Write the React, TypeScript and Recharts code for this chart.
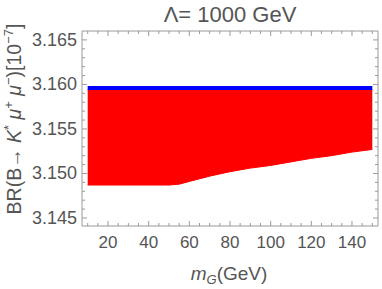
import React from 'react';
import { ComposedChart, Area, Line, XAxis, YAxis, Label } from 'recharts';

// m_G (GeV) sample positions
const mG = [10, 20, 30, 40, 50, 55, 60, 70, 80, 90, 100, 110, 120, 130, 140, 150];
// lower edge of the red scatter region (BR in 10^-7)
const brLow = [3.1487, 3.1487, 3.1487, 3.1487, 3.1487, 3.1488, 3.1491, 3.1497, 3.1502, 3.1506, 3.1509, 3.1513, 3.1517, 3.152, 3.1524, 3.1527];
// upper edge of the red scatter region
const brHigh = [3.1594, 3.1594, 3.1594, 3.1594, 3.1594, 3.1594, 3.1594, 3.1594, 3.1594, 3.1594, 3.1594, 3.1594, 3.1594, 3.1594, 3.1594, 3.1594];
// blue (SM) line
const brSM = [3.1596, 3.1596, 3.1596, 3.1596, 3.1596, 3.1596, 3.1596, 3.1596, 3.1596, 3.1596, 3.1596, 3.1596, 3.1596, 3.1596, 3.1596, 3.1596];

const xTicks = [10, 15, 20, 25, 30, 35, 40, 45, 50, 55, 60, 65, 70, 75, 80, 85, 90, 95, 100, 105, 110, 115, 120, 125, 130, 135, 140, 145, 150];
const xMajor = [20, 40, 60, 80, 100, 120, 140];
const yTicks = [3.145, 3.146, 3.147, 3.148, 3.149, 3.15, 3.151, 3.152, 3.153, 3.154, 3.155, 3.156, 3.157, 3.158, 3.159, 3.16, 3.161, 3.162, 3.163, 3.164, 3.165];
const yMajor = ['3.145', '3.150', '3.155', '3.160', '3.165'];

const data = mG.map((m, i) => ({ m, range: [brLow[i], brHigh[i]], sm: brSM[i] }));

const FONT = '"Liberation Sans", Arial, sans-serif';
const FRAME = '#9a9a9a';
const TXT = '#555555';

const isXMajor = (v: number) => xMajor.includes(v);
const isYMajor = (v: number) => yMajor.includes(v.toFixed(3));

const BottomTick = (p: any) => {
  const { x, y, payload } = p;
  const major = isXMajor(payload.value);
  return (
    <g>
      <line x1={x} y1={y} x2={x} y2={y - (major ? 5 : 3)} stroke={FRAME} strokeWidth={1} />
      {major && (
        <text x={x} y={y + 22} textAnchor="middle" fontSize={17} fontFamily={FONT} fill={TXT}>
          {payload.value}
        </text>
      )}
    </g>
  );
};

const TopTick = (p: any) => {
  const { x, y, payload } = p;
  const major = isXMajor(payload.value);
  return <line x1={x} y1={y} x2={x} y2={y + (major ? 5 : 3)} stroke={FRAME} strokeWidth={1} />;
};

const LeftTick = (p: any) => {
  const { x, y, payload } = p;
  const major = isYMajor(payload.value);
  return (
    <g>
      <line x1={x} y1={y} x2={x + (major ? 5 : 3)} y2={y} stroke={FRAME} strokeWidth={1} />
      {major && (
        <text x={x - 5} y={y + 6} textAnchor="end" fontSize={18} fontFamily={FONT} fill={TXT}>
          {payload.value.toFixed(3)}
        </text>
      )}
    </g>
  );
};

const RightTick = (p: any) => {
  const { x, y, payload } = p;
  const major = isYMajor(payload.value);
  return <line x1={x} y1={y} x2={x - (major ? 5 : 3)} y2={y} stroke={FRAME} strokeWidth={1} />;
};

const Texts = () => (
  <g>
    <text x={230} y={22} textAnchor="middle" fontSize={22} fontFamily={FONT} fill={TXT}>
      Λ= 1000 GeV
    </text>
    <text transform="translate(21,119) rotate(-90)" x={0} y={0} textAnchor="middle" fontSize={19.5} fontFamily={FONT} fill={TXT}>
      <tspan>BR(B→ </tspan>
      <tspan fontStyle="italic">K</tspan>
      <tspan fontSize={13} dy={-8}>*</tspan>
      <tspan dy={8}> </tspan>
      <tspan fontStyle="italic">μ</tspan>
      <tspan fontSize={13} dy={-8}>+</tspan>
      <tspan dy={8}> </tspan>
      <tspan fontStyle="italic">μ</tspan>
      <tspan fontSize={13} dy={-8}>−</tspan>
      <tspan dy={8}>)[10</tspan>
      <tspan fontSize={13} dy={-8}>−7</tspan>
      <tspan dy={8}>]</tspan>
    </text>
  </g>
);

const XTitle = () => (
  <text x={229} y={280} textAnchor="middle" fontSize={19} fontFamily={FONT} fill={TXT}>
    <tspan fontStyle="italic">m</tspan>
    <tspan fontStyle="italic" fontSize={13} dy={4}>G</tspan>
    <tspan dy={-4}>(GeV)</tspan>
  </text>
);

export default function App() {
  return (
    <div style={{ position: 'absolute', left: 0, top: 0, width: 382, height: 289, background: '#fff' }}>
      <ComposedChart width={382} height={289} data={data} margin={{ top: 30, right: 3, bottom: 0, left: 0 }}>
        <XAxis
          xAxisId="b"
          dataKey="m"
          type="number"
          domain={[7.2, 152.8]}
          ticks={xTicks}
          allowDataOverflow
          height={63}
          tickSize={0}
          tickMargin={0}
          tickLine={false}
          axisLine={{ stroke: FRAME }}
          tick={BottomTick}
          interval={0}
        >
          <Label content={XTitle} />
        </XAxis>
        <XAxis
          xAxisId="t"
          orientation="top"
          dataKey="m"
          type="number"
          domain={[7.2, 152.8]}
          ticks={xTicks}
          allowDataOverflow
          height={1}
          tickSize={0}
          tickMargin={0}
          tickLine={false}
          axisLine={{ stroke: FRAME }}
          tick={TopTick}
          interval={0}
        />
        <YAxis
          yAxisId="l"
          type="number"
          domain={[3.1441, 3.166]}
          ticks={yTicks}
          allowDataOverflow
          width={82}
          tickSize={0}
          tickMargin={0}
          tickLine={false}
          axisLine={{ stroke: FRAME }}
          tick={LeftTick}
          interval={0}
        >
          <Label content={Texts} />
        </YAxis>
        <YAxis
          yAxisId="r"
          orientation="right"
          type="number"
          domain={[3.1441, 3.166]}
          ticks={yTicks}
          allowDataOverflow
          width={1}
          tickSize={0}
          tickMargin={0}
          tickLine={false}
          axisLine={{ stroke: FRAME }}
          tick={RightTick}
          interval={0}
        />
        <Area
          xAxisId="b"
          yAxisId="l"
          dataKey="range"
          type="linear"
          fill="#ff0000"
          fillOpacity={1}
          stroke="#ff0000"
          strokeWidth={1}
          isAnimationActive={false}
        />
        <Line
          xAxisId="t"
          yAxisId="r"
          dataKey="sm"
          type="linear"
          stroke="none"
          dot={false}
          legendType="none"
          isAnimationActive={false}
        />
        <Line
          xAxisId="b"
          yAxisId="l"
          dataKey="sm"
          type="linear"
          stroke="#0000ff"
          strokeWidth={4}
          dot={false}
          isAnimationActive={false}
        />
      </ComposedChart>
    </div>
  );
}
